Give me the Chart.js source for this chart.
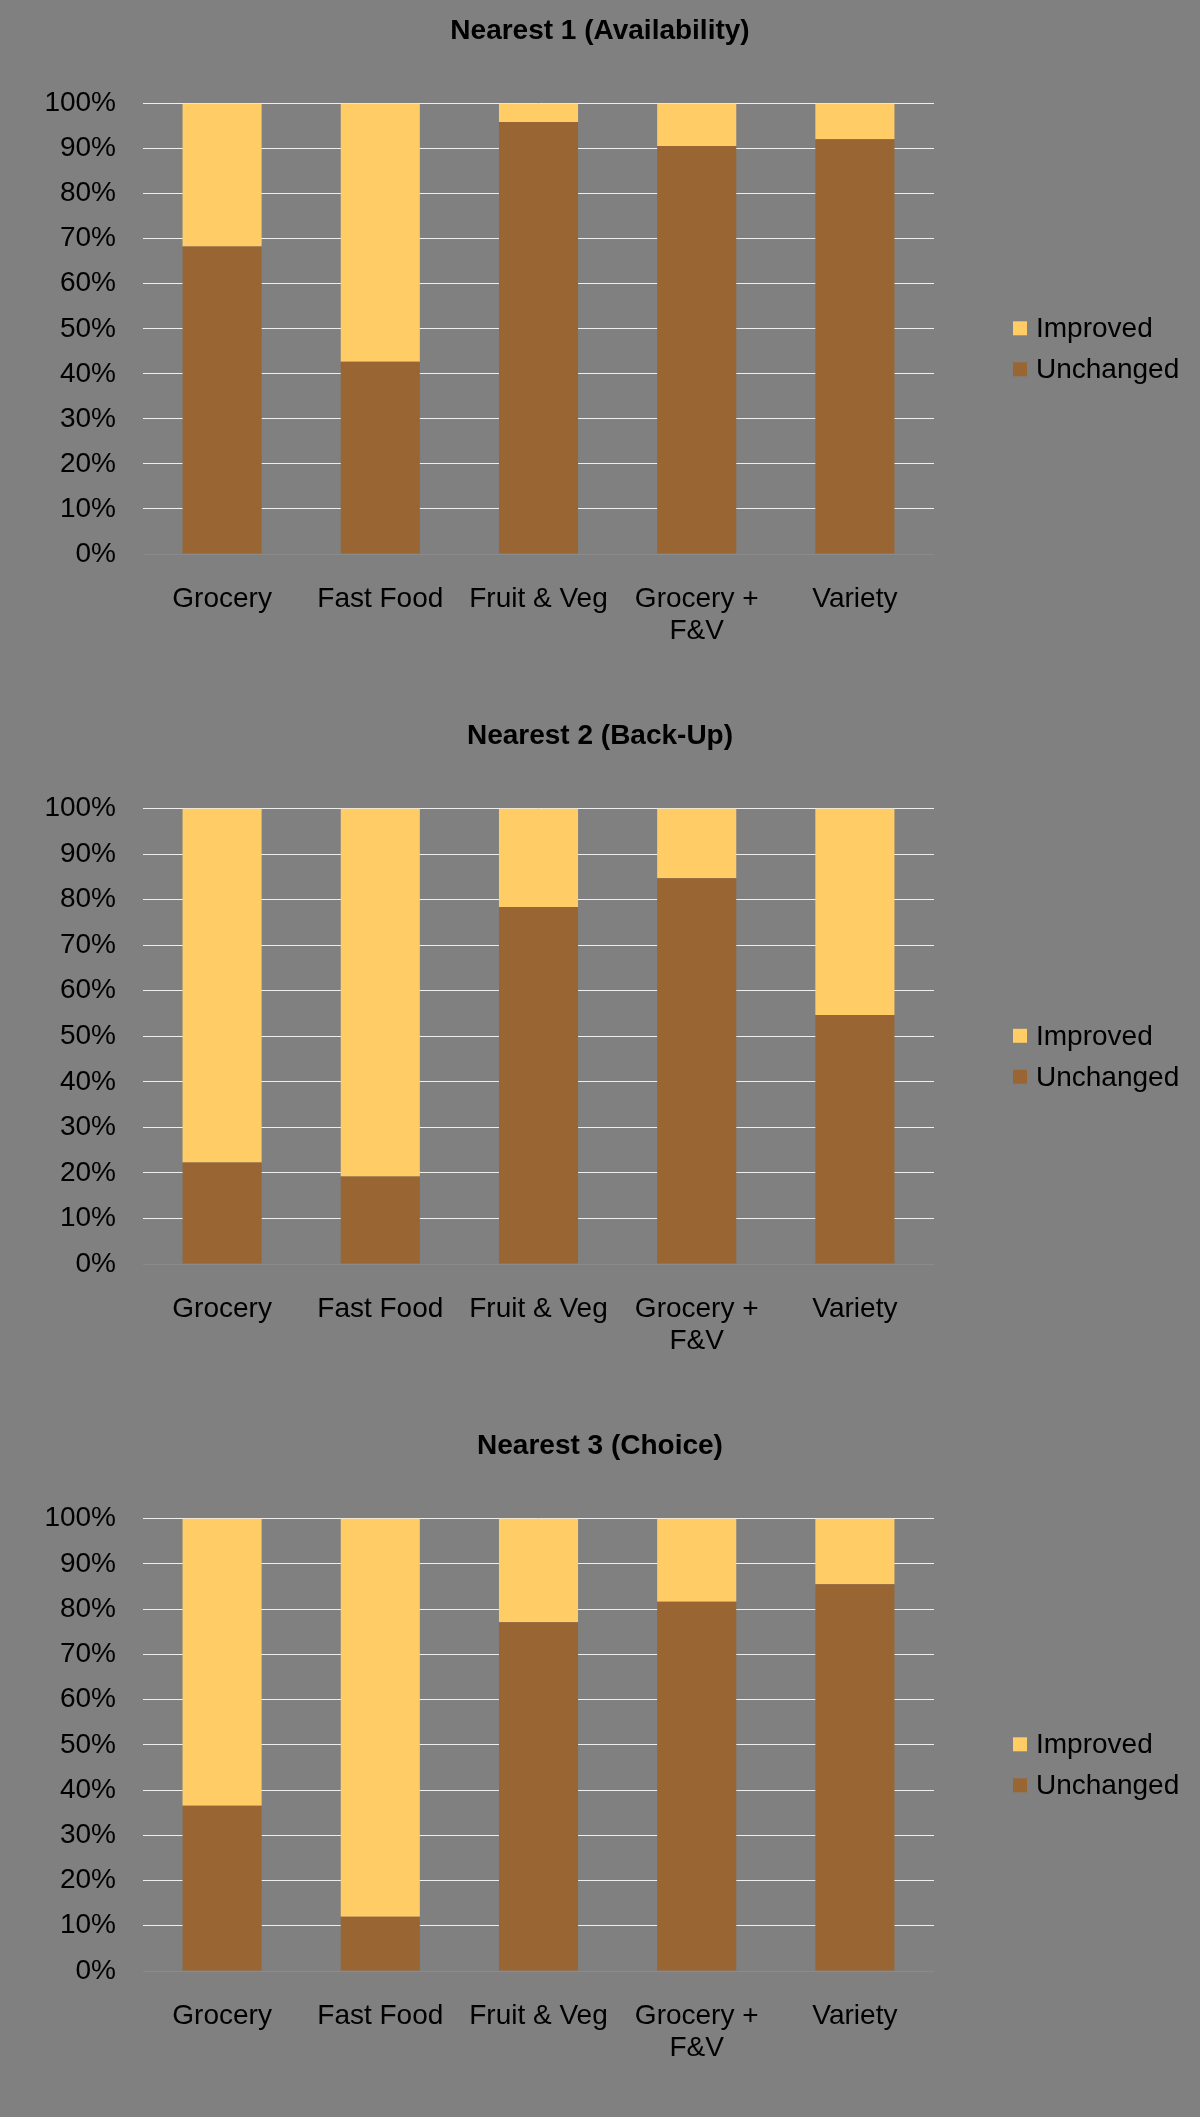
<!DOCTYPE html>
<html>
<head>
<meta charset="utf-8">
<script src="https://cdn.jsdelivr.net/npm/chart.js@4.4.1/dist/chart.umd.min.js"></script>
<style>
    body { margin: 0; background: #808080; overflow: hidden; }
    canvas { display: block; }
</style>
</head>
<body>
<canvas id="chart1" width="1200" height="705"></canvas>
<canvas id="chart2" width="1200" height="710"></canvas>
<canvas id="chart3" width="1200" height="707"></canvas>
<script>
const categories = ['Grocery', 'Fast Food', 'Fruit & Veg', ['Grocery +', 'F&V'], 'Variety'];
const seriesNames = ['Unchanged', 'Improved'];
const titles = ['Nearest 1 (Availability)', 'Nearest 2 (Back-Up)', 'Nearest 3 (Choice)'];

// percent of stores
const unchanged1 = [68.3, 42.7, 95.9, 90.6, 92.1];
const improved1 = [31.7, 57.3, 4.1, 9.4, 7.9];
const unchanged2 = [22.3, 19.2, 78.4, 84.7, 54.7];
const improved2 = [77.7, 80.8, 21.6, 15.3, 45.3];
const unchanged3 = [36.5, 12.0, 77.1, 81.6, 85.5];
const improved3 = [63.5, 88.0, 22.9, 18.4, 14.5];

const colors = ['#996633', '#FFCC66'];
const font = 'Liberation Sans, Arial, sans-serif';

// legend drawn to the right of the plot, Improved on top
const sideLegend = {
    id: 'sideLegend',
    afterDraw(chart) {
        const {ctx, chartArea} = chart;
        const items = chart.data.datasets.slice().reverse();
        const boxX = chartArea.right + 79;
        const mid = (chartArea.top + chartArea.bottom) / 2 + 20;
        ctx.save();
        ctx.font = '28px ' + font;
        ctx.textBaseline = 'middle';
        items.forEach((ds, i) => {
            const y = mid + (i - (items.length - 1) / 2) * 41;
            ctx.fillStyle = ds.backgroundColor;
            ctx.fillRect(boxX, y - 7, 14, 14);
            ctx.fillStyle = '#000';
            ctx.fillText(ds.label, boxX + 23, y + 1);
        });
        ctx.restore();
    }
};

function makeChart(id, title, unchanged, improved) {
    const ctx = document.getElementById(id).getContext('2d');
    return new Chart(ctx, {
        type: 'bar',
        data: {
            labels: categories,
            datasets: [
                { label: seriesNames[0], data: unchanged, backgroundColor: colors[0] },
                { label: seriesNames[1], data: improved, backgroundColor: colors[1] }
            ]
        },
        options: {
            responsive: false,
            animation: false,
            devicePixelRatio: 1,
            categoryPercentage: 1,
            barPercentage: 0.5,
            layout: { padding: 0 },
            plugins: {
                legend: { display: false },
                tooltip: { enabled: false },
                title: {
                    display: true,
                    text: title,
                    color: '#000',
                    font: { family: font, size: 28, weight: 'bold' },
                    padding: { top: 14, bottom: 56 }
                }
            },
            scales: {
                x: {
                    stacked: true,
                    grid: { display: false },
                    border: { display: false },
                    ticks: {
                        color: '#000',
                        font: { family: font, size: 28, lineHeight: 1.14 },
                        padding: 21,
                        maxRotation: 0,
                        autoSkip: false
                    },
                    afterFit(scale) { scale.height = 151; }
                },
                y: {
                    stacked: true,
                    min: 0,
                    max: 100,
                    grid: {
                        drawTicks: false,
                        lineWidth: 1,
                        color: c => c.tick.value === 0 ? '#8a8a8a' : '#eeeeee'
                    },
                    border: { display: false },
                    ticks: {
                        stepSize: 10,
                        color: '#000',
                        font: { family: font, size: 28 },
                        padding: 27,
                        callback: v => v + '%'
                    },
                    afterFit(scale) { scale.width = 143; }
                },
                // empty axis that keeps room for the legend on the right
                legendSpace: {
                    type: 'linear',
                    position: 'right',
                    grid: { display: false },
                    border: { display: false },
                    ticks: { display: false },
                    afterFit(scale) { scale.width = 266; }
                }
            }
        },
        plugins: [sideLegend]
    });
}

makeChart('chart1', titles[0], unchanged1, improved1);
makeChart('chart2', titles[1], unchanged2, improved2);
makeChart('chart3', titles[2], unchanged3, improved3);
</script>
</body>
</html>
